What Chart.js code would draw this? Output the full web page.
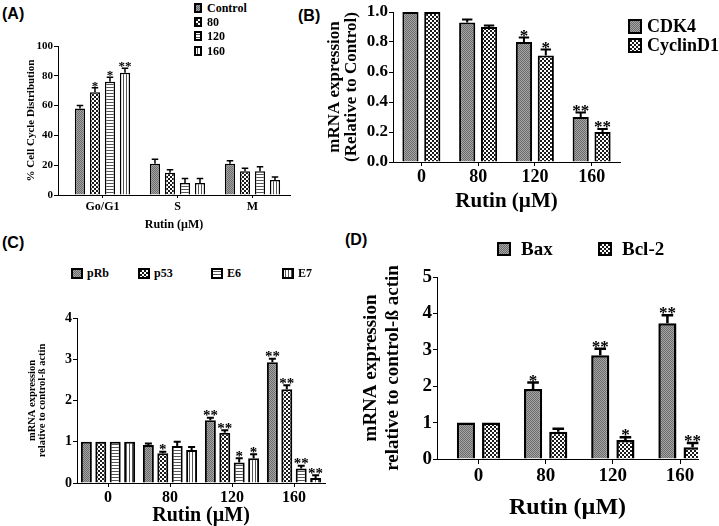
<!DOCTYPE html>
<html>
<head>
<meta charset="utf-8">
<script src="https://cdn.jsdelivr.net/npm/chart.js@4.4.1/dist/chart.umd.min.js"></script>
<style>
body { margin: 0; width: 719px; height: 526px; position: relative; overflow: hidden; background: #fff;
       font-family: "Liberation Serif", serif; font-weight: bold; color: #000; }
canvas.plot { position: absolute; }
.tag { position: absolute; font-family: "Liberation Sans", Arial, sans-serif; font-weight: bold; font-size: 16px; }
.leg { position: absolute; display: flex; align-items: center; white-space: nowrap; line-height: 1; }
</style>
</head>
<body>
<div class="tag" style="left:2px;top:5px">(A)</div>
<div class="tag" style="left:298px;top:7px">(B)</div>
<div class="tag" style="left:2px;top:234px">(C)</div>
<div class="tag" style="left:345px;top:231px">(D)</div>

<canvas class="plot" id="chartA" width="300" height="205" style="left:0;top:30px"></canvas>
<canvas class="plot" id="chartB" width="310" height="215" style="left:320px;top:0"></canvas>
<canvas class="plot" id="chartC" width="340" height="226" style="left:0;top:300px"></canvas>
<canvas class="plot" id="chartD" width="359" height="266" style="left:360px;top:260px"></canvas>

<script>
// (A) cell cycle distribution, %
const phases = ['Go/G1', 'S', 'M'];
const doseNames = ['Control', '80', '120', '160'];
const cellControl = [58, 21, 21];
const cell80 = [69, 15, 16];
const cell120 = [76, 8, 16];
const cell160 = [82, 8, 10];
const cellControlErr = [2, 3, 2];
const cell80Err = [3, 2, 2];
const cell120Err = [3, 3, 3];
const cell160Err = [3, 3, 2];
const cellControlStars = ['', '', ''];
const cell80Stars = ['*', '', ''];
const cell120Stars = ['*', '', ''];
const cell160Stars = ['**', '', ''];

// (B) mRNA relative to control
const doses = ['0', '80', '120', '160'];
const cdk4 = [1.0, 0.93, 0.80, 0.30];
const cdk4Err = [0, 0.02, 0.03, 0.03];
const cdk4Stars = ['', '', '*', '**'];
const cyclinD1 = [1.0, 0.90, 0.71, 0.20];
const cyclinD1Err = [0, 0.01, 0.04, 0.02];
const cyclinD1Stars = ['', '', '*', '**'];

// (C) mRNA relative to control-beta actin
const pRb = [1, 0.92, 1.52, 2.93];
const pRbErr = [0, 0.04, 0.06, 0.08];
const pRbStars = ['', '', '**', '**'];
const p53 = [1, 0.72, 1.22, 2.27];
const p53Err = [0, 0.04, 0.06, 0.10];
const p53Stars = ['', '*', '**', '**'];
const e6 = [1, 0.90, 0.50, 0.35];
const e6Err = [0, 0.10, 0.10, 0.07];
const e6Stars = ['', '', '*', '**'];
const e7 = [1, 0.80, 0.60, 0.12];
const e7Err = [0, 0.07, 0.10, 0.07];
const e7Stars = ['', '', '*', '**'];

// (D) Bax / Bcl-2
const bax = [1, 1.92, 2.85, 3.73];
const baxErr = [0, 0.18, 0.18, 0.22];
const baxStars = ['', '*', '**', '**'];
const bcl2 = [1, 0.75, 0.52, 0.32];
const bcl2Err = [0, 0.08, 0.08, 0.12];
const bcl2Stars = ['', '', '*', '**'];

const SERIF = '"Liberation Serif", "Times New Roman", serif';

function makePattern(ctx, kind) {
    const c = document.createElement('canvas');
    const x = c.getContext('2d');
    if (kind === 'gray') {
        c.width = c.height = 2;
        x.fillStyle = '#a4a4a4'; x.fillRect(0, 0, 2, 2);
        x.fillStyle = '#6c6c6c'; x.fillRect(0, 0, 1, 1); x.fillRect(1, 1, 1, 1);
    } else if (kind === 'check') {
        c.width = c.height = 4;
        x.fillStyle = '#fff'; x.fillRect(0, 0, 4, 4);
        x.fillStyle = '#1a1a1a'; x.fillRect(0, 0, 2, 2); x.fillRect(2, 2, 2, 2);
    } else if (kind === 'hline') {
        c.width = c.height = 3;
        x.fillStyle = '#fff'; x.fillRect(0, 0, 3, 3);
        x.fillStyle = '#555'; x.fillRect(0, 0, 3, 1);
    } else {
        c.width = c.height = 3;
        x.fillStyle = '#fff'; x.fillRect(0, 0, 3, 3);
        x.fillStyle = '#555'; x.fillRect(0, 0, 1, 3);
    }
    return ctx.createPattern(c, 'repeat');
}

// error bars (upper only) and significance stars
const errorBars = {
    id: 'errorBars',
    afterDatasetsDraw(chart, args, opts) {
        const ctx = chart.ctx;
        const y = chart.scales.y;
        chart.data.datasets.forEach((ds, i) => {
            chart.getDatasetMeta(i).data.forEach((bar, j) => {
                let top = bar.y;
                ctx.save();
                ctx.strokeStyle = '#000';
                ctx.lineWidth = opts.lw;
                if (ds.err[j] > 0) {
                    top = y.getPixelForValue(ds.data[j] + ds.err[j]);
                    const half = bar.width * 0.32;
                    ctx.beginPath();
                    ctx.moveTo(bar.x, bar.y);
                    ctx.lineTo(bar.x, top);
                    ctx.moveTo(bar.x - half, top);
                    ctx.lineTo(bar.x + half, top);
                    ctx.stroke();
                }
                if (ds.stars[j]) {
                    ctx.fillStyle = '#000';
                    ctx.font = 'bold ' + opts.star + 'px ' + SERIF;
                    ctx.textAlign = 'center';
                    ctx.textBaseline = 'alphabetic';
                    ctx.fillText(ds.stars[j], bar.x, top - 2 + opts.star * 0.3);
                }
                ctx.restore();
            });
        });
    }
};

function makeChart(id, o) {
    const ctx = document.getElementById(id).getContext('2d');
    return new Chart(ctx, {
        type: 'bar',
        data: {
            labels: o.labels,
            datasets: o.series.map((s, i) => ({
                label: s.name,
                data: s.values,
                err: s.err,
                stars: s.stars,
                backgroundColor: makePattern(ctx, o.kinds[i]),
                borderColor: '#000',
                borderWidth: o.bw,
                categoryPercentage: o.cp,
                barPercentage: o.bp
            }))
        },
        plugins: [errorBars],
        options: {
            responsive: false,
            animation: false,
            devicePixelRatio: 1,
            layout: { padding: o.pad },
            plugins: {
                legend: { display: false },
                tooltip: { enabled: false },
                errorBars: { lw: o.elw, star: o.star }
            },
            scales: {
                x: {
                    grid: { drawOnChartArea: false, offset: false, tickLength: o.xtl, color: '#000', lineWidth: o.axw },
                    border: { color: '#000', width: o.axw },
                    ticks: { color: '#000', font: { family: SERIF, weight: 'bold', size: o.xf }, padding: o.xpad, maxRotation: 0 },
                    title: { display: true, text: 'Rutin (\u00b5M)', color: '#000',
                             font: { family: SERIF, weight: 'bold', size: o.xtf, lineHeight: 1 }, padding: { top: 0, bottom: o.xtb } },
                    afterBuildTicks: s => {
                        if (o.xStart !== undefined) {
                            s._startValue = o.xStart;
                            s._valueRange = o.xRange;
                        }
                    },
                    afterFit: s => { s.height = o.xh; }
                },
                y: {
                    min: 0,
                    max: o.ymax,
                    grid: { drawOnChartArea: false, tickLength: 4, color: '#000', lineWidth: o.axw },
                    border: { color: '#000', width: o.axw },
                    ticks: { stepSize: o.step, color: '#000', padding: 1,
                             font: { family: SERIF, weight: 'bold', size: o.yf },
                             callback: v => o.dec ? v.toFixed(o.dec) : v },
                    title: { display: true, text: o.ytitle, color: '#000',
                             font: { family: SERIF, weight: 'bold', size: o.ytf, lineHeight: o.ylh },
                             padding: { top: o.ytp, bottom: 0 } },
                    afterFit: s => { s.width = o.yw; }
                }
            }
        }
    });
}

function legend(names, kinds, pos) {
    names.forEach((n, i) => {
        const item = document.createElement('div');
        item.className = 'leg';
        item.style.left = pos.x[i] + 'px';
        item.style.top = pos.y[i] + 'px';
        item.style.fontSize = pos.font + 'px';
        const sw = document.createElement('canvas');
        sw.width = pos.w;
        sw.height = pos.h;
        sw.style.marginRight = pos.gap + 'px';
        const c = sw.getContext('2d');
        c.fillStyle = makePattern(c, kinds[i]);
        c.fillRect(0, 0, pos.w, pos.h);
        c.lineWidth = 2;
        c.strokeStyle = '#000';
        c.strokeRect(1, 1, pos.w - 2, pos.h - 2);
        const t = document.createElement('span');
        t.textContent = n;
        item.appendChild(sw);
        item.appendChild(t);
        document.body.appendChild(item);
    });
}

const kinds4 = ['gray', 'check', 'hline', 'vline'];

makeChart('chartA', {
    labels: phases,
    series: [
        { name: doseNames[0], values: cellControl, err: cellControlErr, stars: cellControlStars },
        { name: doseNames[1], values: cell80, err: cell80Err, stars: cell80Stars },
        { name: doseNames[2], values: cell120, err: cell120Err, stars: cell120Stars },
        { name: doseNames[3], values: cell160, err: cell160Err, stars: cell160Stars }
    ],
    kinds: kinds4, bw: 1.5, cp: 0.8, bp: 0.68, elw: 1.5, star: 13,
    pad: { top: 16, right: 10, left: 0, bottom: 0 },
    xh: 40, xtl: 3, xf: 12, xpad: 2, xtf: 12, xtb: 4, xStart: -0.593, xRange: 3.093,
    ymax: 100, step: 20, yf: 11, yw: 58, ytitle: '% Cell Cycle Distribution', ytf: 11, ylh: 1.2, ytp: 25
});
legend(doseNames, kinds4, { x: [194, 194, 194, 194], y: [2, 16, 30, 45], w: 8, h: 10, gap: 5, font: 12 });

makeChart('chartB', {
    labels: doses,
    series: [
        { name: 'CDK4', values: cdk4, err: cdk4Err, stars: cdk4Stars },
        { name: 'CyclinD1', values: cyclinD1, err: cyclinD1Err, stars: cyclinD1Stars }
    ],
    kinds: ['gray', 'check'], bw: 2, cp: 0.77, bp: 0.74, elw: 2, star: 17,
    pad: { top: 12, right: 10, left: 0, bottom: 0 },
    xh: 53, xtl: 4, xf: 18, xpad: 1, xtf: 21, xtb: 3,
    ymax: 1.0, step: 0.2, dec: 1, yf: 17, yw: 73,
    ytitle: ['mRNA expression', '(Relative to Control)'], ytf: 17, ylh: 1.0, ytp: 6
});
legend(['CDK4', 'CyclinD1'], ['gray', 'check'], { x: [628, 628], y: [17, 36], w: 14, h: 15, gap: 5, font: 18 });

makeChart('chartC', {
    labels: doses,
    series: [
        { name: 'pRb', values: pRb, err: pRbErr, stars: pRbStars },
        { name: 'p53', values: p53, err: p53Err, stars: p53Stars },
        { name: 'E6', values: e6, err: e6Err, stars: e6Stars },
        { name: 'E7', values: e7, err: e7Err, stars: e7Stars }
    ],
    kinds: kinds4, bw: 2, cp: 0.93, bp: 0.76, elw: 2, star: 15,
    pad: { top: 18, right: 15, left: 0, bottom: 0 },
    xh: 43, xtl: 4, xf: 16, xpad: 1, xtf: 20, xtb: 0,
    ymax: 4, step: 1, yf: 14, yw: 77,
    ytitle: ['mRNA expression', 'relative to control-\u00df actin'], ytf: 10.5, ylh: 1.0, ytp: 27
});
legend(['pRb', 'p53', 'E6', 'E7'], kinds4, { x: [71, 138, 211, 282], y: [267, 267, 267, 267], w: 12, h: 11, gap: 4, font: 12 });

makeChart('chartD', {
    labels: doses,
    series: [
        { name: 'Bax', values: bax, err: baxErr, stars: baxStars },
        { name: 'Bcl-2', values: bcl2, err: bcl2Err, stars: bcl2Stars }
    ],
    kinds: ['gray', 'check'], bw: 2.5, cp: 0.75, bp: 0.72, elw: 2.5, star: 17,
    pad: { top: 17, right: 21, left: 0, bottom: 0 },
    xh: 67, xtl: 5, xf: 19, xpad: 1, xtf: 24, xtb: 6, xStart: -0.618, xRange: 3.886,
    ymax: 5, step: 1, yf: 19, yw: 77,
    ytitle: ['mRNA expression', 'relative to control-\u00df actin'], ytf: 19, ylh: 1.15, ytp: 0
});
legend(['Bax', 'Bcl-2'], ['gray', 'check'], { x: [497, 598], y: [239, 239], w: 14, h: 14, gap: 10, font: 19 });
</script>
</body>
</html>
